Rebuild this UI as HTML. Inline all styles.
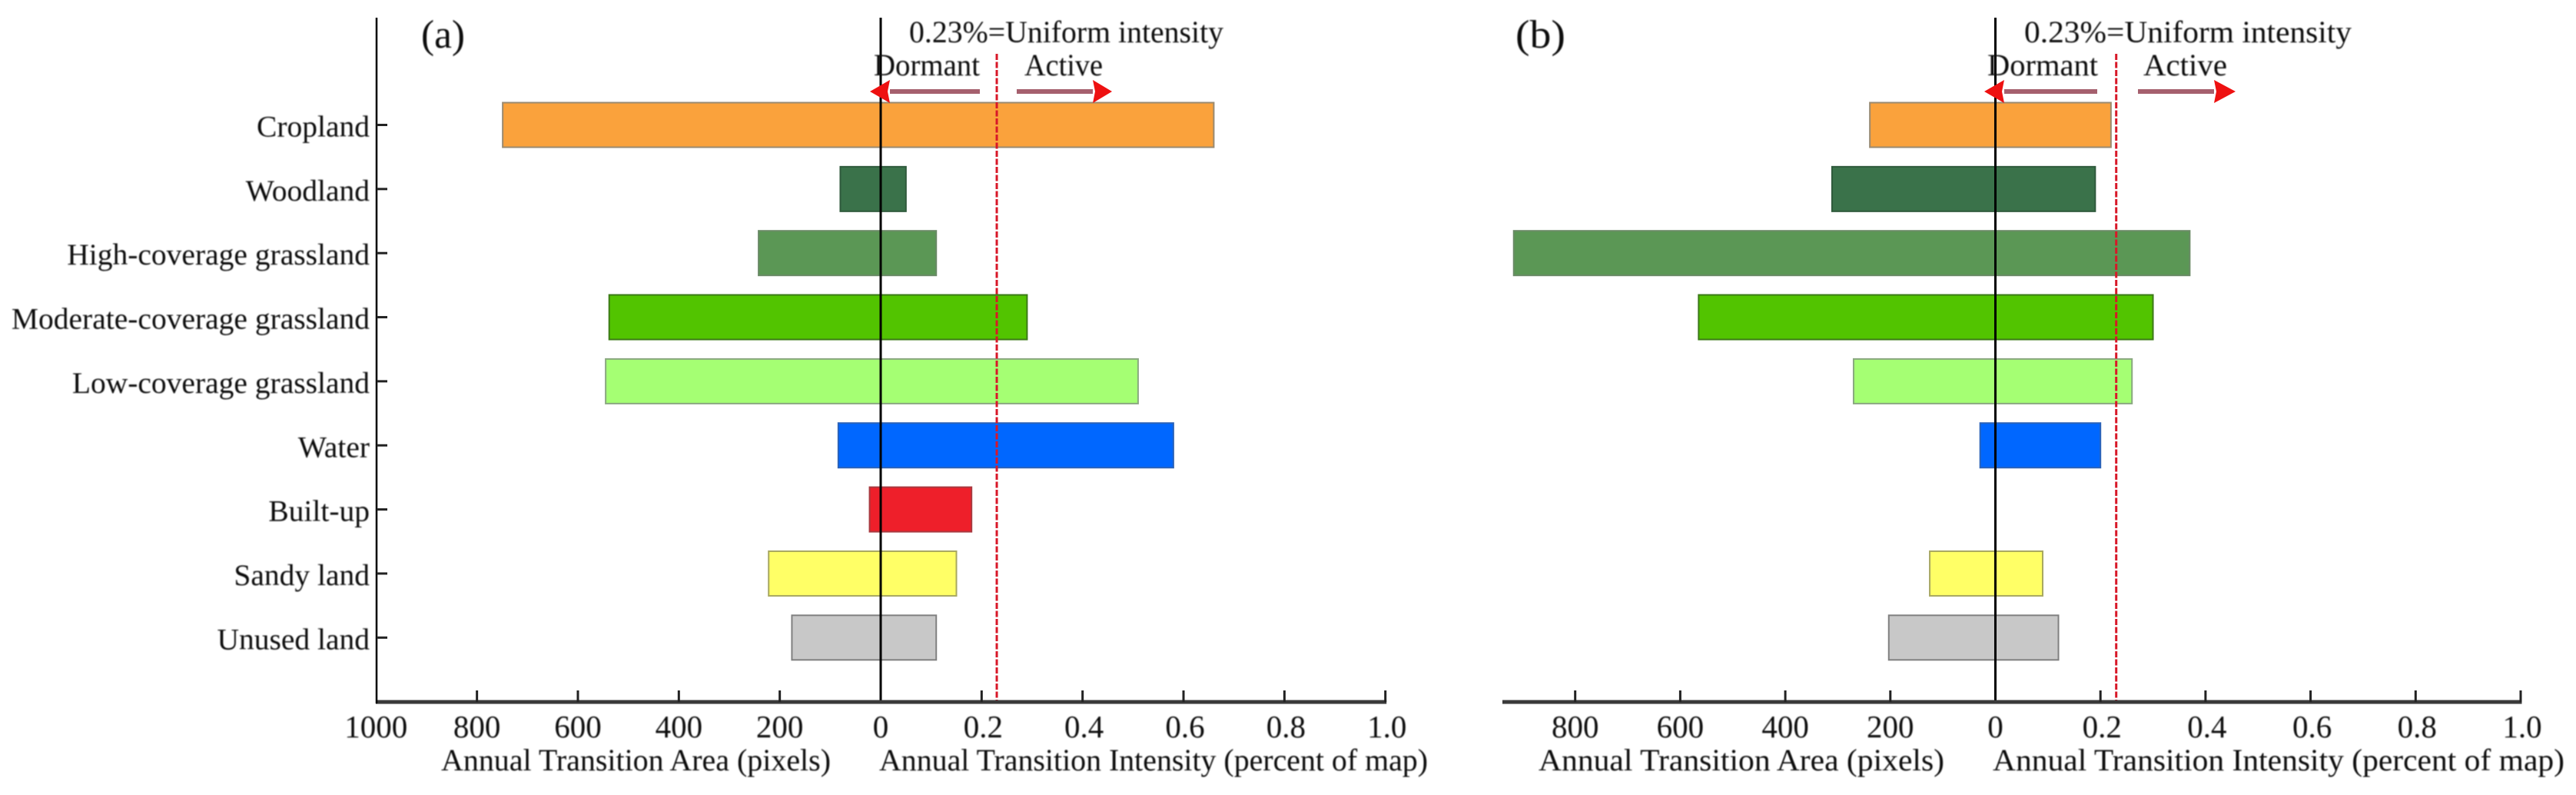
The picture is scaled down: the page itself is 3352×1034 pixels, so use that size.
<!DOCTYPE html>
<html lang="en">
<head>
<meta charset="utf-8">
<title>Annual transition area and intensity by land category</title>
<style>
  html, body { margin: 0; padding: 0; background: #ffffff; }
  body { width: 3352px; height: 1034px; overflow: hidden; }
  svg { display: block; }
  text { font-family: "Liberation Serif", "Times New Roman", serif; fill: #111111; }
</style>
</head>
<body>
<svg id="chart" xmlns="http://www.w3.org/2000/svg" width="3352" height="1034" viewBox="0 0 3352 1034">
  <defs>
    <filter id="soft" x="-5%" y="-5%" width="110%" height="110%"><feGaussianBlur stdDeviation="0.7"/></filter>
  </defs>
</svg>
<script>
// ---- Data ----
const categories = ['Cropland', 'Woodland', 'High-coverage grassland', 'Moderate-coverage grassland', 'Low-coverage grassland', 'Water', 'Built-up', 'Sandy land', 'Unused land'];
const areaA = [749, 80, 242, 538, 545, 84, 22, 222, 176];
const intensityA = [0.66, 0.05, 0.11, 0.29, 0.51, 0.58, 0.18, 0.15, 0.11];
const areaB = [239, 311, 917, 565, 270, 29, null, 125, 203];
const intensityB = [0.22, 0.19, 0.37, 0.30, 0.26, 0.20, null, 0.09, 0.12];
const areaTicksA = [1000, 800, 600, 400, 200];
const areaTicksB = [800, 600, 400, 200];
const intensityTicks = [0.2, 0.4, 0.6, 0.8, 1.0];
const uniformIntensity = 0.23;
const barColors = ['#FAA23C', '#3A724A', '#5B9755', '#52C400', '#A5FF73', '#0067FF', '#EE1F2A', '#FFFF66', '#C8C8C8'];
const barEdges = ['#9a8a70', '#2f5a3c', '#6a8a66', '#3c7a18', '#8aa880', '#2a62b8', '#a83a40', '#a8a860', '#808080'];

const NS = 'http://www.w3.org/2000/svg';
const svg = document.getElementById('chart');
const TOP = 23, AXIS_Y = 913, FIRST_Y = 162.5, STEP = 83.35, BAR_H = 58;

function mk(tag, attrs, parent) {
  const el = document.createElementNS(NS, tag);
  for (const k in attrs) el.setAttribute(k, attrs[k]);
  parent.appendChild(el);
  return el;
}
function txt(str, attrs, parent) {
  const el = mk('text', attrs, parent);
  el.textContent = str;
  return el;
}
function slug(s) { return s.toLowerCase().replace(/[^a-z0-9]+/g, '-'); }

function drawPanel(p) {
  const areaX = v => p.zeroX - v * p.areaScale;
  const intensityX = v => p.zeroX + v * p.intensityScale;
  const rowY = i => FIRST_Y + i * STEP;

  const g = mk('g', {}, svg);
  
  

  // bars
  categories.forEach((c, i) => {
    if (p.area[i] === null) return;
    const x1 = areaX(p.area[i]), x2 = intensityX(p.intensity[i]);
    const bar = mk('rect', { x: x1, y: rowY(i) - BAR_H / 2, width: x2 - x1, height: BAR_H, fill: barColors[i], stroke: barEdges[i], 'stroke-width': 2 }, g);
    
    
  });

  // uniform intensity line
  const ux = intensityX(uniformIntensity);
  const red = mk('line', { x1: ux, y1: 70, x2: ux, y2: AXIS_Y, stroke: '#d81828', 'stroke-width': 3, 'stroke-dasharray': '8 2.5' }, g);
  
  

  // zero line
  const zero = mk('line', { x1: p.zeroX, y1: TOP, x2: p.zeroX, y2: AXIS_Y, stroke: '#000', 'stroke-width': 3 }, g);
  
  

  // bottom axis
  const axis = mk('line', { x1: p.axisLeft, y1: AXIS_Y, x2: intensityX(1) + 1.5, y2: AXIS_Y, stroke: '#3a3a3a', 'stroke-width': 5 }, g);
  
  

  p.areaTicks.forEach(v => {
    const x = areaX(v);
    if (v < p.axisMax) {
      const t = mk('line', { x1: x, y1: AXIS_Y, x2: x, y2: AXIS_Y - 15, stroke: '#222', 'stroke-width': 3 }, g);
      
      
    }
    const l = txt(String(v), { x: x, y: 959, 'font-size': 41, 'text-anchor': 'middle', filter: 'url(#soft)' }, g);
    
    
  });
  const zt = txt('0', { x: p.zeroX, y: 959, 'font-size': 41, 'text-anchor': 'middle', filter: 'url(#soft)' }, g);
  
  
  intensityTicks.forEach(v => {
    const x = intensityX(v);
    const t = mk('line', { x1: x, y1: AXIS_Y, x2: x, y2: AXIS_Y - 15, stroke: '#222', 'stroke-width': 3 }, g);
    
    
    const l = txt(v.toFixed(1), { x: x + 2, y: 959, 'font-size': 41, 'text-anchor': 'middle', filter: 'url(#soft)' }, g);
    
    
  });

  // axis titles
  const t1 = txt('Annual Transition Area (pixels)', { x: p.areaTitle[0], y: 1002, 'font-size': 40, textLength: p.areaTitle[1], lengthAdjust: 'spacingAndGlyphs', filter: 'url(#soft)' }, g);
  
  
  const t2 = txt('Annual Transition Intensity (percent of map)', { x: p.intTitle[0], y: 1002, 'font-size': 40, textLength: p.intTitle[1], lengthAdjust: 'spacingAndGlyphs', filter: 'url(#soft)' }, g);
  
  

  // annotations
  const pl = txt(p.label, { x: p.labelPos[0], y: 62, 'font-size': 52, textLength: p.labelPos[1], lengthAdjust: 'spacingAndGlyphs', filter: 'url(#soft)' }, g);
  
  
  const u = txt('0.23%=Uniform intensity', { x: p.uniform[0], y: 55, 'font-size': 40, textLength: p.uniform[1], lengthAdjust: 'spacingAndGlyphs', filter: 'url(#soft)' }, g);
  
  
  const d = txt('Dormant', { x: p.dormant[0], y: 98, 'font-size': 40, textLength: p.dormant[1], lengthAdjust: 'spacingAndGlyphs', filter: 'url(#soft)' }, g);
  
  
  const a = txt('Active', { x: p.active[0], y: 98, 'font-size': 40, textLength: p.active[1], lengthAdjust: 'spacingAndGlyphs', filter: 'url(#soft)' }, g);
  
  

  // arrows
  const AY = 119;
  const ls = mk('line', { x1: p.arrowL[0], y1: AY, x2: p.arrowL[2], y2: AY, stroke: '#a5606e', 'stroke-width': 6 }, g);
  
  
  const lh = mk('polygon', { points: `${p.arrowL[1]},${AY} ${p.arrowL[2]},${AY - 15} ${p.arrowL[2] - 3},${AY} ${p.arrowL[2]},${AY + 15}`, fill: '#ee1111' }, g);
  
  
  const rs = mk('line', { x1: p.arrowR[0], y1: AY, x2: p.arrowR[2], y2: AY, stroke: '#a5606e', 'stroke-width': 6 }, g);
  
  
  const rh = mk('polygon', { points: `${p.arrowR[1]},${AY} ${p.arrowR[2]},${AY - 15} ${p.arrowR[2] + 3},${AY} ${p.arrowR[2]},${AY + 15}`, fill: '#ee1111' }, g);
  
  
}

// category axis (panel a only)
function drawCategoryAxis() {
  const X = 490;
  const g = mk('g', {}, svg);
  
  
  const line = mk('line', { x1: X, y1: TOP, x2: X, y2: AXIS_Y + 2, stroke: '#000', 'stroke-width': 2.5 }, g);
  
  
  categories.forEach((c, i) => {
    const y = FIRST_Y + i * STEP;
    const t = mk('line', { x1: X, y1: y, x2: X + 14, y2: y, stroke: '#222', 'stroke-width': 3 }, g);
    
    
    const l = txt(c, { x: 481, y: y + 15, 'font-size': 39.5, 'text-anchor': 'end', filter: 'url(#soft)' }, g);
    
    
  });
}

drawPanel({
  id: 'a', label: '(a)', labelPos: [548, 57],
  zeroX: 1146, areaScale: 0.6567, intensityScale: 656.7, axisLeft: 489, axisMax: 1000,
  area: areaA, intensity: intensityA, areaTicks: areaTicksA,
  areaTitle: [574, 507], intTitle: [1144, 714],
  uniform: [1183, 409], dormant: [1137, 138], active: [1333, 102],
  arrowL: [1275, 1132, 1158], arrowR: [1323, 1447, 1422]
});
drawPanel({
  id: 'b', label: '(b)', labelPos: [1972, 65],
  zeroX: 2596.5, areaScale: 0.6835, intensityScale: 683.5, axisLeft: 1955, axisMax: 938,
  area: areaB, intensity: intensityB, areaTicks: areaTicksB,
  areaTitle: [2002, 528], intTitle: [2593, 744],
  uniform: [2634, 426], dormant: [2586, 144], active: [2789, 109],
  arrowL: [2729, 2582, 2608], arrowR: [2782, 2909, 2881]
});
drawCategoryAxis();
</script>
</body>
</html>
